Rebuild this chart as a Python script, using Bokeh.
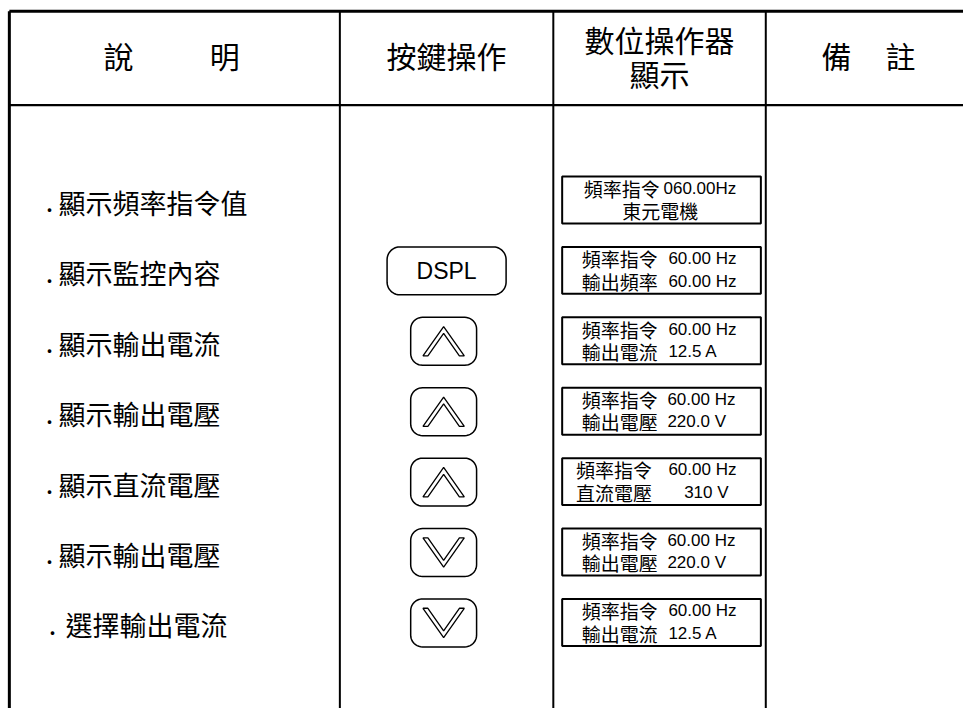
import math
from bokeh.plotting import figure
from bokeh.models import Range1d
from bokeh.core.properties import value
from bokeh.embed import file_html
from bokeh.resources import INLINE

# ---------------- data ----------------
header_desc = ["說", "明"]
header_key = "按鍵操作"
header_disp = ["數位操作器", "顯示"]
header_note = ["備", "註"]

descriptions = ["顯示頻率指令值", "顯示監控內容", "顯示輸出電流", "顯示輸出電壓",
                "顯示直流電壓", "顯示輸出電壓", "選擇輸出電流"]
keys = ["", "DSPL", "UP", "UP", "UP", "DOWN", "DOWN"]
line1_labels = ["頻率指令"] * 7
line1_values = ["060.00Hz", "60.00 Hz", "60.00 Hz", "60.00 Hz", "60.00 Hz", "60.00 Hz", "60.00 Hz"]
line2_labels = ["東元電機", "輸出頻率", "輸出電流", "輸出電壓", "直流電壓", "輸出電壓", "輸出電流"]
line2_values = ["", "60.00 Hz", "12.5 A", "220.0 V", "310 V", "220.0 V", "12.5 A"]

# ---------------- layout ----------------
CJK = value("Noto Sans CJK TC")
LAT = value("Liberation Sans")
col_x = [9, 345, 562, 778, 979]
top_y, head_y, bot_y = 11, 107, 724
row_top0, row_step, row_h = 180, 72, 49
box_x0, box_x1 = 571, 773
label1_x = [593, 591, 591, 591, 585, 591, 591]
value1_x = [674, 679, 679, 678, 679, 678, 679]
label2_x = [632, 591, 591, 591, 585, 591, 591]
value2_x = [0, 679, 679, 678, 695, 678, 679]
desc_x = [59, 59, 59, 59, 59, 59, 66]
dot_x = [46, 46, 46, 46, 46, 46, 49]

p = figure(width=963, height=708, x_range=Range1d(0, 979), y_range=Range1d(724, 0),
           output_backend="svg", toolbar_location=None, min_border=0)
p.axis.visible = False
p.grid.visible = False
p.outline_line_color = None
p.background_fill_color = "white"
p.border_fill_color = "white"

# table lines
p.segment(x0=[col_x[0], col_x[0]], y0=[top_y, head_y], x1=[col_x[-1], col_x[-1]], y1=[top_y, head_y],
          line_color="black", line_width=[3, 2.2])
p.segment(x0=[col_x[0]], y0=[top_y], x1=[col_x[0]], y1=[bot_y], line_color="black", line_width=3)
p.segment(x0=col_x[1:4], y0=[top_y] * 3, x1=col_x[1:4], y1=[bot_y] * 3, line_color="black", line_width=2)

# header texts
hs = "30px"
p.text(x=[120, 228], y=[56, 56], text=header_desc, text_font=CJK, text_font_size=hs,
       text_align="center", text_baseline="middle", text_color="black")
p.text(x=[(col_x[1] + col_x[2]) / 2], y=[56], text=[header_key], text_font=CJK, text_font_size=hs,
       text_align="center", text_baseline="middle", text_color="black")
p.text(x=[(col_x[2] + col_x[3]) / 2] * 2, y=[39, 74], text=header_disp, text_font=CJK, text_font_size=hs,
       text_align="center", text_baseline="middle", text_color="black")
p.text(x=[850, 915], y=[56, 56], text=header_note, text_font=CJK, text_font_size=hs,
       text_align="center", text_baseline="middle", text_color="black")


def rounded(x0, y0, x1, y1, r, n=10):
    xs, ys = [], []
    corners = [(x1 - r, y0 + r, -90, 0), (x1 - r, y1 - r, 0, 90),
               (x0 + r, y1 - r, 90, 180), (x0 + r, y0 + r, 180, 270)]
    for cx, cy, a0, a1 in corners:
        for k in range(n + 1):
            a = math.radians(a0 + (a1 - a0) * k / n)
            xs.append(cx + r * math.cos(a))
            ys.append(cy + r * math.sin(a))
    return xs, ys


n = len(descriptions)
tops = [row_top0 + row_step * i for i in range(n)]
mids = [t + row_h / 2 for t in tops]

# description column
p.text(x=dot_x, y=[m + 2 for m in mids], text=["."] * n, text_font=CJK, text_font_size="27px",
       text_align="left", text_baseline="middle", text_color="black")
p.text(x=desc_x, y=[m + 2 for m in mids], text=descriptions, text_font=CJK, text_font_size="27px",
       text_align="left", text_baseline="middle", text_color="black")

# display boxes
p.quad(left=[box_x0] * n, right=[box_x1] * n, top=tops, bottom=[t + 48 for t in tops],
       fill_color=None, line_color="black", line_width=2)
p.text(x=label1_x, y=[t + 12 for t in tops], text=line1_labels, text_font=CJK, text_font_size="19px",
       text_align="left", text_baseline="middle", text_color="black")
p.text(x=value1_x, y=[t + 12 for t in tops], text=line1_values, text_font=LAT, text_font_size="17px",
       text_align="left", text_baseline="middle", text_color="black")
p.text(x=label2_x, y=[t + 35 for t in tops], text=line2_labels, text_font=CJK, text_font_size="19px",
       text_align="left", text_baseline="middle", text_color="black")
p.text(x=value2_x, y=[t + 35 for t in tops], text=line2_values, text_font=LAT, text_font_size="17px",
       text_align="left", text_baseline="middle", text_color="black")

# key buttons
bxs, bys = [], []
cvx, cvy = [], []
dspl_x, dspl_y = [], []
for k, t in zip(keys, tops):
    if not k:
        continue
    if k == "DSPL":
        xs, ys = rounded(393, t, 514, t + row_h, 13)
        dspl_x.append((393 + 514) / 2)
        dspl_y.append(t + row_h / 2)
    else:
        xs, ys = rounded(417, t, 484, t + row_h, 12)
        cx, cy = 450.5, t + row_h / 2
        sgn = 1 if k == "UP" else -1
        shape = [(-21, 15), (0, -15), (21, 15), (16, 15), (0, -8), (-16, 15)]
        cvx.append([cx + a for a, b in shape])
        cvy.append([cy + sgn * b for a, b in shape])
    bxs.append(xs)
    bys.append(ys)

p.patches(xs=bxs, ys=bys, fill_color="white", line_color="black", line_width=1.5)
p.patches(xs=cvx, ys=cvy, fill_color="white", line_color="black", line_width=1.3)
p.text(x=dspl_x, y=dspl_y, text=["DSPL"] * len(dspl_x), text_font=LAT, text_font_size="23px",
       text_align="center", text_baseline="middle", text_color="black")

open("out.html", "w").write(file_html(p, INLINE))
